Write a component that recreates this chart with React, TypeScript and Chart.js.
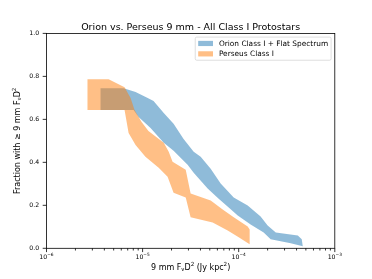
import React, { useEffect, useRef } from 'react';
import { Chart, registerables } from 'chart.js';

Chart.register(...registerables);

// ---------- data ----------
const chartTitle = 'Orion vs. Perseus 9 mm - All Class I Protostars';
const seriesLabels = ['Orion Class I + Flat Spectrum', 'Perseus Class I'];
const seriesColors = ['rgba(31,119,180,0.5)', 'rgba(255,127,14,0.5)'];

// [flux (Jy kpc^2), fraction] along the upper and lower edges of each band
const orionUpper: [number, number][] = [
  [3.65e-6, 0.745], [6.34e-6, 0.745], [8.45e-6, 0.727], [1.13e-5, 0.699], [1.3e-5, 0.685],
  [1.66e-5, 0.63], [2.1e-5, 0.579], [2.67e-5, 0.509], [3.4e-5, 0.449], [4.02e-5, 0.426],
  [5.11e-5, 0.37], [6.49e-5, 0.301], [8.87e-5, 0.236], [1.24e-4, 0.199], [1.69e-4, 0.148],
  [2.0e-4, 0.106], [2.43e-4, 0.074], [4.12e-4, 0.06], [4.53e-4, 0.042], [4.64e-4, 0.009],
];
const orionLower: [number, number][] = [
  [3.65e-6, 0.644], [8.06e-6, 0.644], [9.08e-6, 0.611], [1.21e-5, 0.56], [1.66e-5, 0.491],
  [2.1e-5, 0.454], [2.94e-5, 0.389], [3.4e-5, 0.352], [4.75e-5, 0.278], [6.19e-5, 0.231],
  [7.87e-5, 0.19], [9.77e-5, 0.153], [1.33e-4, 0.111], [1.82e-4, 0.074], [2.15e-4, 0.042],
  [3.48e-4, 0.023], [4.64e-4, 0.009],
];
const perseusUpper: [number, number][] = [
  [2.67e-6, 0.787], [4.43e-6, 0.787], [6.49e-6, 0.75], [7.5e-6, 0.699], [8.25e-6, 0.644],
  [9.76e-6, 0.588], [1.15e-5, 0.546], [1.66e-5, 0.491], [1.87e-5, 0.449], [2.05e-5, 0.403],
  [2.81e-5, 0.366], [3.16e-5, 0.255], [5.11e-5, 0.222], [6.81e-5, 0.181], [8.87e-5, 0.144],
  [1.24e-4, 0.102], [1.3e-4, 0.088],
];
const perseusLower: [number, number][] = [
  [2.67e-6, 0.644], [6.49e-6, 0.644], [7.15e-6, 0.537], [8.45e-6, 0.481], [1.07e-5, 0.426],
  [1.47e-5, 0.375], [1.82e-5, 0.333], [2.1e-5, 0.259], [2.81e-5, 0.236], [3.16e-5, 0.144],
  [5.36e-5, 0.12], [7.68e-5, 0.083], [1.0e-4, 0.051], [1.3e-4, 0.019],
];

const xDecades = [1e-6, 1e-5, 1e-4, 1e-3];
const xMinorSteps = [2, 3, 4, 5, 6, 7, 8, 9];
const yTicks = [0, 0.2, 0.4, 0.6, 0.8, 1.0];

type Seg = { t: string; k?: 'sub' | 'sup' };
const xTitleParts: Seg[] = [
  { t: '9 mm F' }, { t: 'ν', k: 'sub' }, { t: 'D' }, { t: '2', k: 'sup' },
  { t: ' (Jy kpc' }, { t: '2', k: 'sup' }, { t: ')' },
];
const yTitleParts: Seg[] = [
  { t: 'Fraction with ≥ 9 mm F' }, { t: 'ν', k: 'sub' }, { t: 'D' }, { t: '2', k: 'sup' },
];

// ---------- helpers ----------
const FONT = '"DejaVu Sans", "Liberation Sans", sans-serif';
const isDecade = (v: number) => Math.abs(Math.log10(v) - Math.round(Math.log10(v))) < 1e-9;
const decadeParts = (v: number): Seg[] => {
  const e = Math.round(Math.log10(v));
  return [{ t: '10' }, { t: (e < 0 ? '\u2212' : '') + Math.abs(e), k: 'sup' }];
};

const band = (upper: [number, number][], lower: [number, number][]) =>
  [...upper, ...lower.slice().reverse()].map(([x, y]) => ({ x, y }));

function segFont(size: number, k?: string) {
  return `${k ? size * 0.7 : size}px ${FONT}`;
}
function richWidth(ctx: CanvasRenderingContext2D, parts: Seg[], size: number) {
  let w = 0;
  for (const p of parts) {
    ctx.font = segFont(size, p.k);
    w += ctx.measureText(p.t).width;
  }
  return w;
}
function drawRich(ctx: CanvasRenderingContext2D, parts: Seg[], size: number, cx: number, baseY: number) {
  const w = richWidth(ctx, parts, size);
  let x = cx - w / 2;
  ctx.textAlign = 'left';
  ctx.textBaseline = 'alphabetic';
  for (const p of parts) {
    ctx.font = segFont(size, p.k);
    const dy = p.k === 'sub' ? size * 0.2 : p.k === 'sup' ? -size * 0.45 : 0;
    ctx.fillText(p.t, x, baseY + dy);
    x += ctx.measureText(p.t).width;
  }
}

const decorPlugin = {
  id: 'decor',
  afterDraw(chart: any) {
    const ctx: CanvasRenderingContext2D = chart.ctx;
    const a = chart.chartArea;
    const xs = chart.scales.x;
    const ys = chart.scales.y;
    ctx.save();
    // frame (all four spines)
    ctx.strokeStyle = '#000';
    ctx.lineWidth = 0.8;
    ctx.strokeRect(a.left, a.top, a.right - a.left, a.bottom - a.top);
    // tick marks
    ctx.beginPath();
    for (const t of xs.ticks) {
      const px = xs.getPixelForValue(t.value);
      const len = t.major ? 3.8 : 2.2;
      ctx.moveTo(px, a.bottom);
      ctx.lineTo(px, a.bottom + len);
    }
    for (const t of ys.ticks) {
      const py = ys.getPixelForValue(t.value);
      ctx.moveTo(a.left, py);
      ctx.lineTo(a.left - 3.8, py);
    }
    ctx.stroke();
    ctx.fillStyle = '#000';
    // x tick labels (10 with superscript exponent)
    for (const t of xs.ticks) {
      if (!isDecade(t.value)) continue;
      drawRich(ctx, decadeParts(t.value), 6.2, xs.getPixelForValue(t.value), a.bottom + 10.8);
    }
    // axis titles
    drawRich(ctx, xTitleParts, 8, (a.left + a.right) / 2, a.bottom + 21.5);
    ctx.save();
    ctx.translate(19.5, (a.top + a.bottom) / 2);
    ctx.rotate(-Math.PI / 2);
    drawRich(ctx, yTitleParts, 8, 0, 0);
    ctx.restore();
    // legend
    const em = 7.4;
    ctx.font = `${em}px ${FONT}`;
    const textW = Math.max(...seriesLabels.map((s) => ctx.measureText(s).width));
    const rowH = 6.8;
    const gap = 3.6;
    const fw = 0.4 * em + 2 * em + 0.8 * em + textW + 0.4 * em;
    const fh = 0.8 * em + seriesLabels.length * rowH + (seriesLabels.length - 1) * gap;
    const fr = a.right - 0.5 * em;
    const ft = a.top + 0.5 * em;
    const fl = fr - fw;
    ctx.beginPath();
    (ctx as any).roundRect(fl, ft, fw, fh, 1.5);
    ctx.fillStyle = 'rgba(255,255,255,0.8)';
    ctx.fill();
    ctx.strokeStyle = 'rgba(204,204,204,0.8)';
    ctx.lineWidth = 0.8;
    ctx.stroke();
    seriesLabels.forEach((lab, i) => {
      const cy = ft + 0.4 * em + rowH / 2 + i * (rowH + gap);
      ctx.fillStyle = seriesColors[i];
      ctx.fillRect(fl + 0.4 * em, cy - 0.35 * em, 2 * em, 0.7 * em);
      ctx.fillStyle = '#000';
      ctx.textAlign = 'left';
      ctx.textBaseline = 'middle';
      ctx.font = `${em}px ${FONT}`;
      ctx.fillText(lab, fl + 0.4 * em + 2 * em + 0.8 * em, cy + 0.3);
    });
    ctx.restore();
  },
};

export default function App() {
  const ref = useRef<HTMLCanvasElement>(null);
  useEffect(() => {
    if (!ref.current) return;
    const chart = new Chart(ref.current, {
      type: 'line',
      data: {
        datasets: [
          {
            label: seriesLabels[1],
            data: band(perseusUpper, perseusLower),
            backgroundColor: seriesColors[1],
            borderWidth: 0,
            pointRadius: 0,
            fill: 'shape',
          } as any,
          {
            label: seriesLabels[0],
            data: band(orionUpper, orionLower),
            backgroundColor: seriesColors[0],
            borderWidth: 0,
            pointRadius: 0,
            fill: 'shape',
          } as any,
        ],
      },
      options: {
        responsive: false,
        animation: false,
        devicePixelRatio: 1,
        events: [],
        layout: { padding: { left: 0, right: 37.2, top: 0, bottom: 0 } },
        plugins: {
          legend: { display: false },
          tooltip: { enabled: false },
          title: {
            display: true,
            text: chartTitle,
            fullSize: false,
            color: '#000',
            font: { family: FONT, size: 9.5, weight: 'normal', lineHeight: 1.2 },
            padding: { top: 22, bottom: 0 },
          },
        },
        scales: {
          x: {
            type: 'logarithmic',
            min: xDecades[0],
            max: xDecades[xDecades.length - 1],
            border: { display: false },
            grid: { display: true, drawOnChartArea: false, drawTicks: true, tickLength: 3.8, color: 'rgba(0,0,0,0)', tickColor: 'rgba(0,0,0,0)' },
            afterBuildTicks: (s: any) => {
              const ticks: any[] = [];
              xDecades.forEach((d, i) => {
                ticks.push({ value: d, major: true });
                if (i < xDecades.length - 1) xMinorSteps.forEach((m) => ticks.push({ value: d * m, major: false }));
              });
              s.ticks = ticks;
            },
            ticks: { display: false, autoSkip: false, maxRotation: 0 },
            afterFit: (s: any) => { s.height = 30.7; },
          },
          y: {
            type: 'linear',
            min: 0,
            max: 1,
            border: { display: false },
            grid: { display: true, drawOnChartArea: false, drawTicks: true, tickLength: 3.8, color: 'rgba(0,0,0,0)', tickColor: 'rgba(0,0,0,0)' },
            afterBuildTicks: (s: any) => { s.ticks = yTicks.map((v) => ({ value: v })); },
            ticks: {
              padding: 3.5,
              color: '#000',
              font: { family: FONT, size: 6.2 },
              callback: (v: any) => Number(v).toFixed(1),
            },
            afterFit: (s: any) => { s.width = 46.5; },
          },
        },
      } as any,
      plugins: [decorPlugin],
    });
    return () => chart.destroy();
  }, []);
  return (
    <div style={{ position: 'fixed', left: 0, top: 0, width: 372, height: 279, background: '#fff' }}>
      <canvas ref={ref} width={372} height={279} style={{ display: 'block' }} />
    </div>
  );
}
